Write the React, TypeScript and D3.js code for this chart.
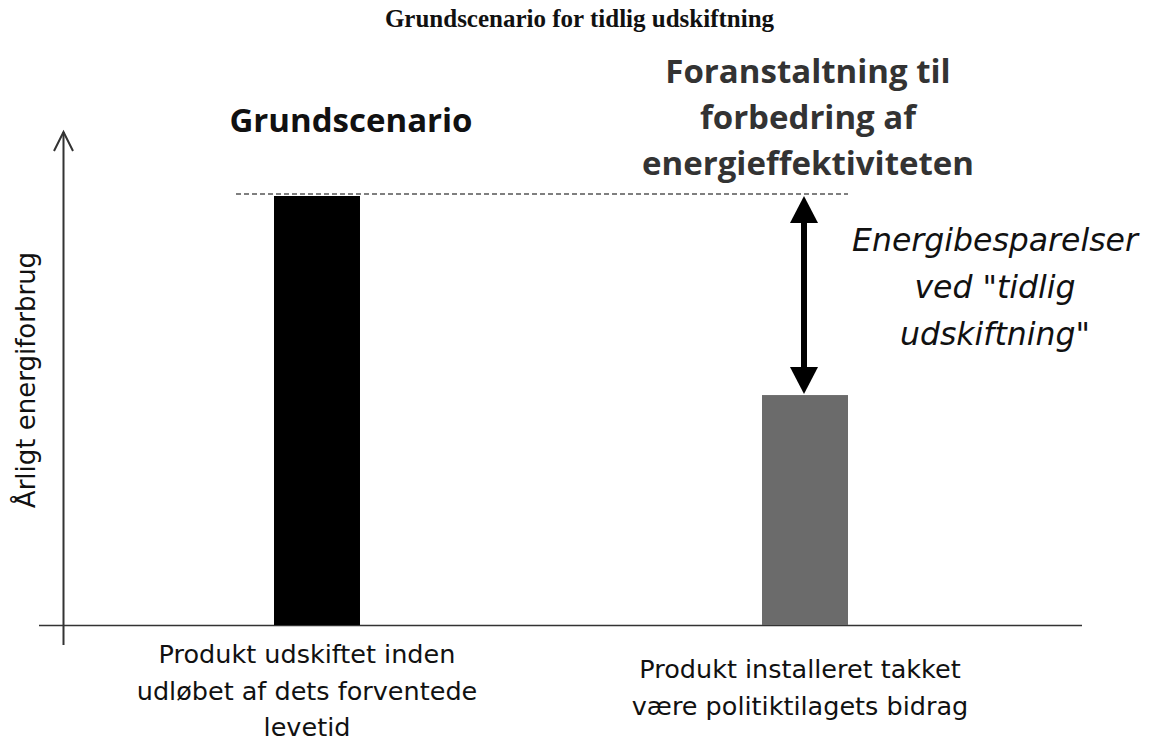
import React from "react";
import * as d3 from "d3";

const categories = ["Grundscenario", "Foranstaltning"];
const values = [100, 53.6];
const barColors = ["#000000", "#6b6b6b"];
const title = "Grundscenario for tidlig udskiftning";
const yLabel = "Årligt energiforbrug";
const topLabels = [["Grundscenario"], ["Foranstaltning til", "forbedring af", "energieffektiviteten"]];
const bottomLabels = [
  ["Produkt udskiftet inden", "udløbet af dets forventede", "levetid"],
  ["Produkt installeret takket", "være politiktilagets bidrag"],
];
const savingsLabel = ["Energibesparelser", "ved \"tidlig", "udskiftning\""];

const W = 1151;
const H = 743;

export default function App() {
  const x = d3.scaleBand<string>().domain(categories).range([73, 1049]).paddingInner(0.8238).paddingOuter(0.4119);
  const y = d3.scaleLinear().domain([0, 100]).range([625, 196]);
  const bw = x.bandwidth();
  const sans = "'Open Sans', sans-serif";
  const wide = "'DejaVu Sans', sans-serif";
  const arrowX = (x(categories[1]) as number) + bw / 2 - 1;
  return (
    <svg width={W} height={H} style={{ position: "absolute", left: 0, top: 0, background: "#fff" }}>
      <text x={W / 2 + 4} y={27} textAnchor="middle" fontFamily="'Liberation Serif', serif" fontWeight="bold" fontSize={25} fill="#111">{title}</text>
      {/* y axis */}
      <line x1={63.5} x2={63.5} y1={645} y2={132} stroke="#333" strokeWidth={2} />
      <path d={`M54,151 L63.5,132 L73,151`} fill="none" stroke="#333" strokeWidth={2} />
      {/* x axis */}
      <line x1={39} x2={1082} y1={625.5} y2={625.5} stroke="#333" strokeWidth={1.6} />
      {categories.map((c, i) => (
        <rect key={c} x={x(c)} y={y(values[i])} width={bw} height={y(0) - y(values[i])} fill={barColors[i]} />
      ))}
      <line x1={236} x2={(x(categories[1]) as number) + bw} y1={y(values[0]) - 2} y2={y(values[0]) - 2} stroke="#000" strokeWidth={1.2} strokeDasharray="5,3" />
      <line x1={arrowX} x2={arrowX} y1={y(values[0]) + 26} y2={y(values[1]) - 26} stroke="#000" strokeWidth={6} />
      <path d={`M${arrowX},${y(values[0])} L${arrowX + 14},${y(values[0]) + 27} L${arrowX - 14},${y(values[0]) + 27} Z`} fill="#000" />
      <path d={`M${arrowX},${y(values[1]) - 1} L${arrowX + 14},${y(values[1]) - 28} L${arrowX - 14},${y(values[1]) - 28} Z`} fill="#000" />
      <text x={351} y={132} textAnchor="middle" fontFamily={sans} fontWeight="bold" fontSize={33} fill="#111">{topLabels[0][0]}</text>
      {topLabels[1].map((t, i) => (
        <text key={t} x={808} y={83 + i * 46} textAnchor="middle" fontFamily={sans} fontWeight="bold" fontSize={33} fill="#333">{t}</text>
      ))}
      {savingsLabel.map((t, i) => (
        <text key={t} x={995} y={251 + i * 47} textAnchor="middle" fontFamily={wide} fontStyle="italic" fontSize={31.5} fill="#111">{t}</text>
      ))}
      <text transform={`translate(35,380) rotate(-90)`} textAnchor="middle" fontFamily={wide} fontSize={26} fill="#111">{yLabel}</text>
      {bottomLabels[0].map((t, i) => (
        <text key={t} x={307} y={663 + i * 36.5} textAnchor="middle" fontFamily={wide} fontSize={25.5} fill="#111">{t}</text>
      ))}
      {bottomLabels[1].map((t, i) => (
        <text key={t} x={800} y={678 + i * 37} textAnchor="middle" fontFamily={wide} fontSize={25.5} fill="#111">{t}</text>
      ))}
    </svg>
  );
}
